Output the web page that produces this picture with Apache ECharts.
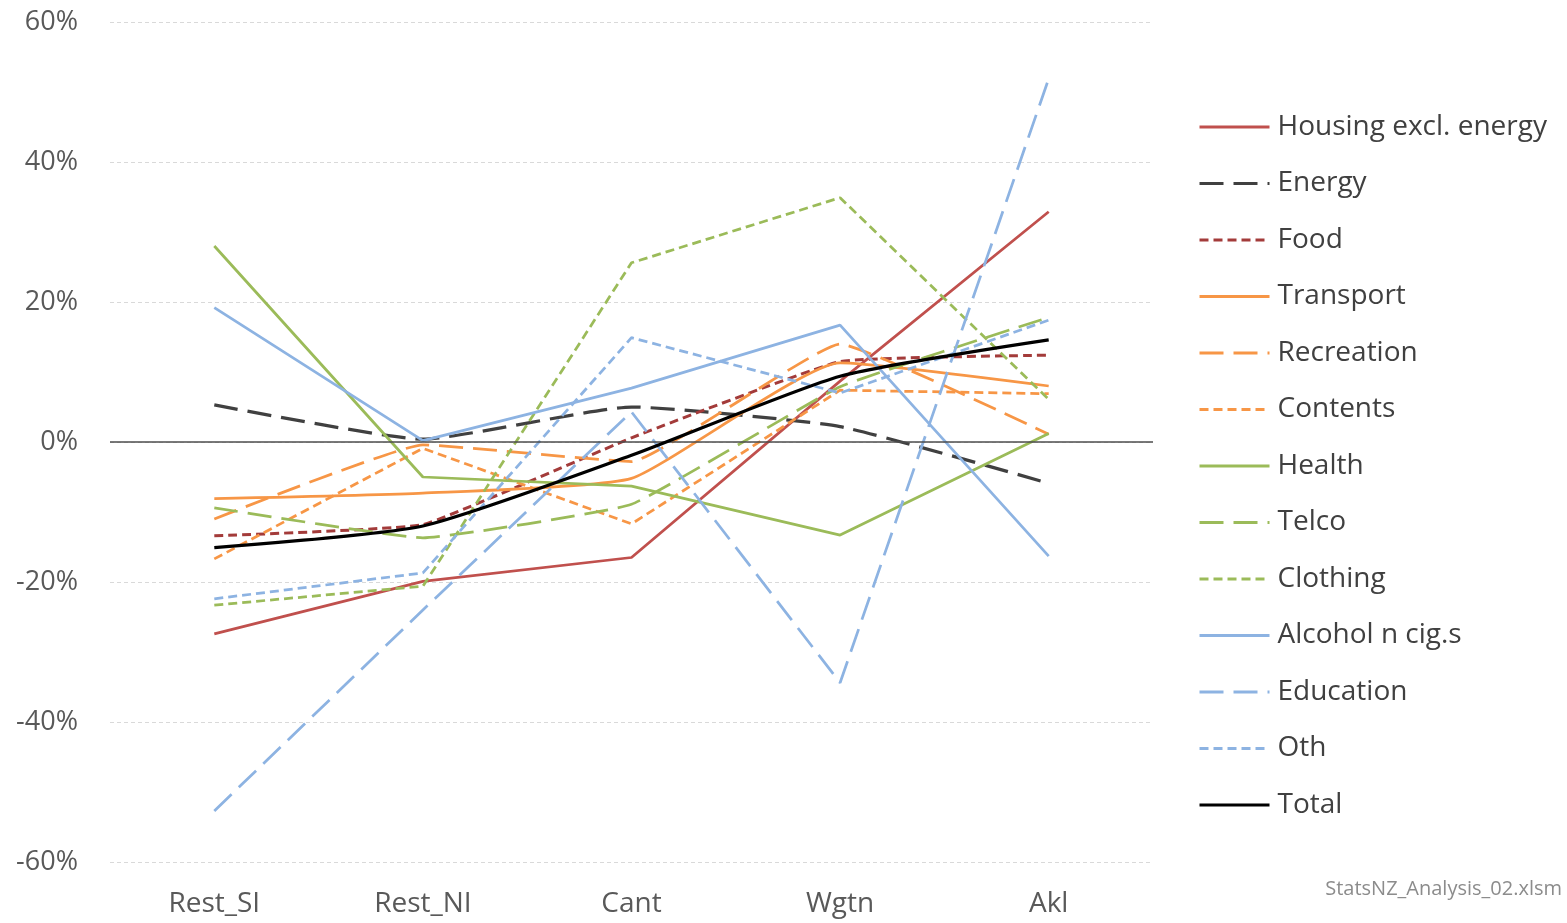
<!DOCTYPE html>
<html>
<head>
<meta charset="utf-8">
<title>Regional price differences by CPI group</title>
<script src="https://cdn.jsdelivr.net/npm/echarts@6/dist/echarts.min.js"></script>
<style>
  html, body { margin: 0; padding: 0; background: #ffffff; }
  #chart { width: 1567px; height: 923px; }
</style>
</head>
<body>
<div id="chart"></div>
<script>
// Regions along the x axis
const regions = ['Rest_SI', 'Rest_NI', 'Cant', 'Wgtn', 'Akl'];

// Y axis range and step (percent)
const yMin = -60, yMax = 60, yStep = 20;

// Difference from the national level, percent, per region
const housing   = [-27.4, -19.9, -16.5,   8.7,  32.9];
const energy    = [  5.3,   0.4,   5.0,   2.2,  -5.9];
const food      = [-13.4, -11.8,   0.6,  11.5,  12.4];
const transport = [ -8.1,  -7.3,  -5.2,  11.3,   8.0];
const recreation= [-11.0,  -0.4,  -2.8,  14.0,   1.1];
const contents  = [-16.7,  -0.9, -11.7,   7.4,   6.9];
const health    = [ 28.0,  -5.0,  -6.3, -13.3,   1.2];
const telco     = [ -9.4, -13.7,  -8.9,   7.9,  17.8];
const clothing  = [-23.3, -20.6,  25.6,  34.9,   6.1];
const alcohol   = [ 19.2,   0.2,   7.7,  16.7, -16.3];
const education = [-52.7, -24.0,   4.3, -34.4,  51.9];
const oth       = [-22.4, -18.7,  14.9,   7.0,  17.4];
const total     = [-15.1, -12.0,  -1.9,   9.4,  14.6];

const footnote = 'StatsNZ_Analysis_02.xlsm';

const FONT = '"Open Sans", Lato, sans-serif';
const RED = '#c0504d', DARKRED = '#a33b3a', BLACK = '#404040';
const ORANGE = '#f79646', GREEN = '#9bbb59', BLUE = '#8db3e2';
const LONG = [24, 10], SHORT = [9, 5];

function line(name, data, color, type, width, smooth) {
  return {
    name: name,
    type: 'line',
    data: data,
    symbol: 'none',
    smooth: smooth || false,
    lineStyle: { color: color, width: width, type: type, cap: 'butt' },
    itemStyle: { color: color },
    emphasis: { disabled: true },
    z: name === 'Total' ? 5 : 2
  };
}

const series = [
  line('Housing excl. energy', housing,   RED,     'solid', 2.75),
  line('Energy',               energy,    BLACK,   LONG,    3.25, 0.15),
  line('Food',                 food,      DARKRED, SHORT,   3,    0.1),
  line('Transport',            transport, ORANGE,  'solid', 2.75, 0.15),
  line('Recreation',           recreation,ORANGE,  LONG,    2.75, 0.1),
  line('Contents',             contents,  ORANGE,  SHORT,   2.75),
  line('Health',               health,    GREEN,   'solid', 2.75),
  line('Telco',                telco,     GREEN,   LONG,    2.75, 0.1),
  line('Clothing',             clothing,  GREEN,   SHORT,   2.75),
  line('Alcohol n cig.s',      alcohol,   BLUE,    'solid', 2.75),
  line('Education',            education, BLUE,    LONG,    2.75),
  line('Oth',                  oth,       BLUE,    SHORT,   2.75),
  line('Total',                total,     '#000000','solid', 3.25, 0.2)
];

// zero reference line across the plot
series[0].markLine = {
  silent: true,
  symbol: 'none',
  label: { show: false },
  lineStyle: { color: '#4d4d4d', width: 1.5, type: 'solid' },
  data: [{ yAxis: 0 }]
};

const chart = echarts.init(document.getElementById('chart'), null, { renderer: 'canvas' });
chart.setOption({
  animation: false,
  backgroundColor: '#ffffff',
  textStyle: { fontFamily: FONT },
  grid: { left: 110, right: 414, top: 22, bottom: 61, containLabel: false },
  xAxis: {
    type: 'category',
    data: regions,
    boundaryGap: true,
    axisLine: { show: false },
    axisTick: { show: false },
    axisLabel: { color: '#595959', fontSize: 28, margin: 28, fontFamily: FONT },
    splitLine: { show: false }
  },
  yAxis: {
    type: 'value',
    min: yMin, max: yMax, interval: yStep,
    axisLine: { show: false },
    axisTick: { show: false },
    axisLabel: { color: '#595959', fontSize: 27, margin: 32, formatter: '{value}%', fontFamily: FONT },
    splitLine: { show: true, lineStyle: { color: '#d9d9d9', width: 1, type: [4, 3] } }
  },
  legend: {
    orient: 'vertical',
    left: 1198,
    top: 112,
    padding: 0,
    itemWidth: 70,
    itemHeight: 12,
    itemGap: 26.5,
    itemStyle: { opacity: 0 },
    lineStyle: { width: 3 },
    textStyle: { color: '#404040', fontSize: 28, lineHeight: 30, padding: [0, 0, 0, 3], fontFamily: FONT },
    data: series.map(s => s.name)
  },
  graphic: [{
    type: 'text',
    right: 5,
    top: 879,
    style: { text: footnote, fill: '#8c8c8c', fontSize: 20, fontFamily: FONT }
  }],
  series: series
});
</script>
</body>
</html>
